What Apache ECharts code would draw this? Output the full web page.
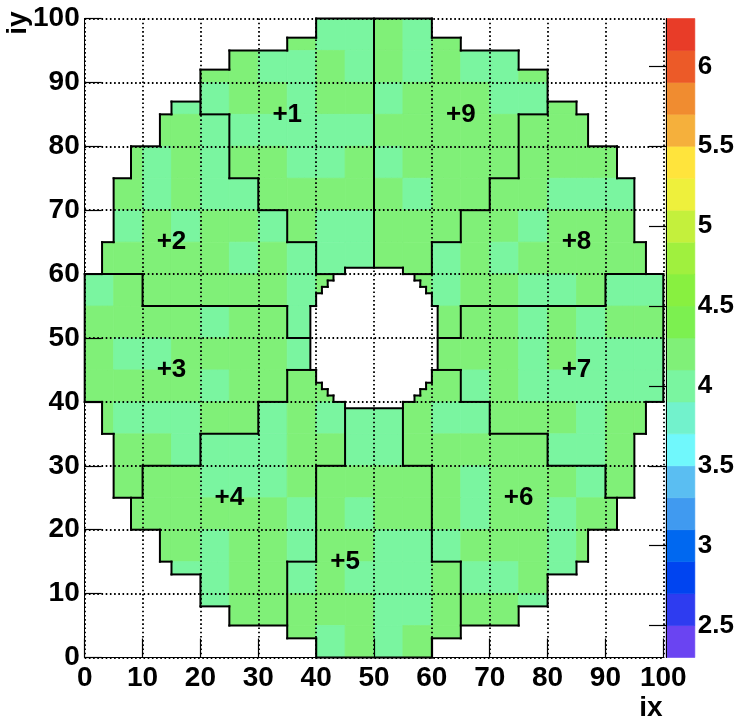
<!DOCTYPE html>
<html><head><meta charset="utf-8">
<script src="https://cdn.jsdelivr.net/npm/echarts@6/dist/echarts.min.js"></script>
<style>html,body{margin:0;padding:0;background:#fff}#c{width:737px;height:722px}</style>
</head><body><div id="c"></div>
<script>
// ---- data ----
const G = 4.2, M = 4.0, _ = null;
// mean value of each 5x5 supercrystal, rows from iy 96-100 (top) down to iy 1-5, columns ix 1-5 ... 96-100
const scValues = [
 [_,_,_,_,_,_,_,G,M,M, G,M,G,_,_,_,_,_,_,_],
 [_,_,_,_,G,G,M,M,G,M, G,M,G,M,M,G,_,_,_,_],
 [_,_,_,M,M,G,G,M,G,G, M,G,G,G,M,M,G,_,_,_],
 [_,_,G,G,M,M,M,M,M,M, G,G,G,G,G,G,G,G,_,_],
 [_,G,M,G,M,G,G,M,M,G, M,G,G,G,G,G,G,G,G,_],
 [_,G,M,G,M,M,G,G,G,G, G,M,G,G,G,G,M,M,M,_],
 [_,M,G,M,G,G,M,G,M,M, G,G,G,G,G,M,G,G,G,_],
 [G,G,G,G,G,M,G,M,M,M, G,G,M,G,M,G,G,G,G,G],
 [M,G,G,G,G,G,G,M,G,_, _,G,M,G,G,M,M,G,M,M],
 [G,G,G,G,M,G,G,M,_,_, _,_,G,G,G,M,G,M,G,G],
 [G,M,M,G,G,G,G,M,_,_, _,_,G,G,G,M,G,M,M,M],
 [G,G,G,G,M,G,G,G,G,_, _,G,G,M,G,M,M,M,M,M],
 [G,M,M,M,G,G,M,G,M,M, M,G,M,M,G,G,G,M,G,G],
 [_,G,G,M,M,M,M,G,G,M, M,G,G,G,G,G,M,M,G,_],
 [_,G,G,G,M,M,M,G,G,G, G,G,G,M,G,G,G,M,G,_],
 [_,G,G,G,G,G,G,M,G,M, G,G,G,M,G,G,M,G,G,_],
 [_,_,G,G,M,G,G,M,G,G, M,M,M,G,G,G,M,G,_,_],
 [_,_,_,M,M,G,G,M,G,M, M,M,G,M,M,G,M,_,_,_],
 [_,_,_,_,M,G,G,G,G,G, M,M,G,G,G,M,_,_,_,_],
 [_,_,_,_,_,_,_,G,M,G, M,G,G,_,_,_,_,_,_,_]
];
// sector number of each supercrystal (same layout)
const sectorRows = [
 "00000001119990000000",
 "00001111119999990000",
 "00021111119999998000",
 "00222111119999988800",
 "02222111119999988880",
 "02222211119999888880",
 "02222221119998888880",
 "22222222119988888888",
 "33222222200888888877",
 "33333332000087777777",
 "33333333000077777777",
 "33333334400667777777",
 "33333344455666777777",
 "03334444455666667770",
 "03444444555566666670",
 "04444444555566666660",
 "00444444555566666600",
 "00044445555556666000",
 "00004445555556660000",
 "00000005555550000000"
];
// endcap outline (left half, mirrored): [ixFirst, ixLast, iyMin, iyMax]
const outerRanges = [[1,3,41,60],[4,5,36,65],[6,8,26,75],[9,13,21,80],[14,15,16,85],[16,20,14,87],[21,25,9,92],[26,35,6,95],[36,40,4,97],[41,50,1,100]];
// inner hole (left half, mirrored): [ixFirst, ixLast, iyFirstMissing, iyLastMissing]
const holeRanges = [[40,40,46,55],[41,41,44,57],[42,42,43,58],[43,43,42,59],[44,45,41,60],[46,50,40,61]];
// sector labels
const sectorLabels = ['+1','+2','+3','+4','+5','+6','+7','+8','+9'];
const labelX = [35,15,15,25,45,75,85,85,65];
const labelY = [85,65,45,25,15,25,45,65,85];
// colour palette
const paletteMin = 2.3, paletteStep = 0.2;
const paletteColors = ['#6a44f2','#2e3cf0','#0044f0','#0068f0','#409af0','#5abef2','#70f8fc','#72f2cc','#7af5a0','#80f078',
  '#7cf050','#88f040','#a0f03e','#c4f03c','#eef03c','#ffe43c','#f5b03c','#f08c30','#ec5a28','#e83c28'];
const paletteTicks = [2.5,3,3.5,4,4.5,5,5.5,6];

// ---- helpers ----
function isValid(ix, iy) {
  if (ix < 1 || ix > 100 || iy < 1 || iy > 100) return false;
  const hx = ix <= 50 ? ix : 101 - ix;
  for (const r of outerRanges) if (hx >= r[0] && hx <= r[1]) { if (iy < r[2] || iy > r[3]) return false; break; }
  for (const h of holeRanges) if (hx >= h[0] && hx <= h[1]) { if (iy >= h[2] && iy <= h[3]) return false; break; }
  return true;
}
function sectorOf(ix, iy) {
  if (!isValid(ix, iy)) return 0;
  const bx = Math.floor((ix - 1) / 5), by = Math.floor((iy - 1) / 5);
  return +sectorRows[19 - by][bx];
}
const cellData = [];
scValues.forEach((row, r) => row.forEach((v, bx) => { if (v !== null) cellData.push([bx * 5, (19 - r) * 5, v]); }));

// boundary segments between different sectors (and the outside)
const segData = [];
for (let x = 0; x <= 100; x++) {
  let start = null;
  for (let iy = 1; iy <= 101; iy++) {
    const diff = iy <= 100 && sectorOf(x, iy) !== sectorOf(x + 1, iy);
    if (diff && start === null) start = iy - 1;
    if (!diff && start !== null) { segData.push([x, start, x, iy - 1]); start = null; }
  }
}
for (let y = 0; y <= 100; y++) {
  let start = null;
  for (let ix = 1; ix <= 101; ix++) {
    const diff = ix <= 100 && sectorOf(ix, y) !== sectorOf(ix, y + 1);
    if (diff && start === null) start = ix - 1;
    if (!diff && start !== null) { segData.push([start, y, ix - 1, y]); start = null; }
  }
}
const pieces = paletteColors.map((c, i) => ({ gte: paletteMin + i * paletteStep - 1e-9, lt: paletteMin + (i + 1) * paletteStep - 1e-9, color: c }));
const bandData = paletteColors.map((c, i) => [paletteMin + i * paletteStep, paletteMin + (i + 1) * paletteStep, i]);
const labelData = sectorLabels.map((t, i) => [labelX[i], labelY[i], t]);

const FONT = 'Liberation Sans';
const FS = 28;
const GRIDLINE = { color: '#000', width: 1.8, type: [1.6, 2.6] };
const chart = echarts.init(document.getElementById('c'), null, { renderer: 'canvas' });
chart.setOption({
  animation: false,
  backgroundColor: '#fff',
  grid: [
    { left: 84.7, right: 73.7, top: 18.5, bottom: 64.5 },
    { left: 666, right: 37.7, top: 18.5, bottom: 64.5 }
  ],
  xAxis: [
    { gridIndex: 0, type: 'value', min: 0, max: 100, interval: 10, z: 3,
      axisLine: { lineStyle: { color: '#000', width: 1 } },
      axisTick: { inside: true, length: 19, lineStyle: { color: '#000', width: 1.2 } },
      axisLabel: { color: '#000', fontFamily: FONT, fontWeight: 'bold', fontSize: FS, margin: 7 },
      splitLine: { show: true, lineStyle: GRIDLINE } },
    { gridIndex: 0, type: 'value', min: 0, max: 100, position: 'top', z: 6,
      axisLine: { lineStyle: { color: '#000', width: 1 } }, axisTick: { show: false }, axisLabel: { show: false }, splitLine: { show: false } },
    { gridIndex: 1, type: 'value', min: 0, max: 1, show: false }
  ],
  yAxis: [
    { gridIndex: 0, type: 'value', min: 0, max: 100, interval: 10, z: 3,
      axisLine: { lineStyle: { color: '#000', width: 1 } },
      axisTick: { inside: true, length: 17, lineStyle: { color: '#000', width: 1.2 } },
      axisLabel: { color: '#000', fontFamily: FONT, fontWeight: 'bold', fontSize: FS, margin: 5 },
      splitLine: { show: true, lineStyle: GRIDLINE } },
    { gridIndex: 0, type: 'value', min: 0, max: 100, position: 'right', z: 6,
      axisLine: { lineStyle: { color: '#000', width: 1 } }, axisTick: { show: false }, axisLabel: { show: false }, splitLine: { show: false } },
    { gridIndex: 1, type: 'value', min: 2.3, max: 6.3, position: 'right', z: 6,
      axisLine: { show: true, lineStyle: { color: '#000', width: 1 } },
      axisTick: { show: true, inside: true, length: 17, customValues: paletteTicks, lineStyle: { color: '#000', width: 1.2 } },
      axisLabel: { show: true, customValues: paletteTicks, color: '#000', fontFamily: FONT, fontWeight: 'bold', fontSize: 26, margin: 3 },
      splitLine: { show: false } }
  ],
  visualMap: { type: 'piecewise', show: false, dimension: 2, seriesIndex: 0, pieces: pieces, outOfRange: { color: '#fff' } },
  graphic: [
    { type: 'text', x: 18, y: 23, rotation: Math.PI / 2, z: 10,
      style: { text: 'iy', fill: '#000', font: 'bold ' + FS + 'px "' + FONT + '"', align: 'center', verticalAlign: 'middle' } },
    { type: 'text', x: 651, y: 708, z: 10,
      style: { text: 'ix', fill: '#000', font: 'bold ' + FS + 'px "' + FONT + '"', align: 'center', verticalAlign: 'middle' } }
  ],
  series: [
    { type: 'custom', xAxisIndex: 0, yAxisIndex: 0, z: 2, data: cellData, encode: { x: 0, y: 1 },
      renderItem: function (params, api) {
        const x0 = api.value(0), y0 = api.value(1);
        const top = [], bot = [];
        for (let c = 0; c < 5; c++) {
          const ix = x0 + c + 1; let lo = null, hi = null;
          for (let k = 1; k <= 5; k++) { const iy = y0 + k; if (isValid(ix, iy)) { if (lo === null) lo = iy; hi = iy; } }
          if (lo === null) continue;
          top.push(api.coord([ix - 1, hi]), api.coord([ix, hi]));
          bot.push(api.coord([ix - 1, lo - 1]), api.coord([ix, lo - 1]));
        }
        const pts = top.concat(bot.reverse());
        const col = api.visual('color');
        return { type: 'polygon', shape: { points: pts }, style: { fill: col, stroke: col, lineWidth: 0.8 } };
      } },
    { type: 'custom', xAxisIndex: 0, yAxisIndex: 0, z: 5, data: segData, encode: { x: [0, 2], y: [1, 3] },
      renderItem: function (params, api) {
        const a = api.coord([api.value(0), api.value(1)]), b = api.coord([api.value(2), api.value(3)]);
        return { type: 'line', shape: { x1: a[0], y1: a[1], x2: b[0], y2: b[1] }, style: { stroke: '#000', lineWidth: 2, lineCap: 'square' } };
      } },
    { type: 'custom', xAxisIndex: 0, yAxisIndex: 0, z: 7, data: labelData, encode: { x: 0, y: 1 },
      renderItem: function (params, api) {
        const p = api.coord([api.value(0), api.value(1)]);
        return { type: 'text', x: p[0], y: p[1], style: { text: labelData[params.dataIndex][2], fill: '#000', font: 'bold 26px "' + FONT + '"', align: 'center', verticalAlign: 'middle' } };
      } },
    { type: 'custom', xAxisIndex: 2, yAxisIndex: 2, z: 2, data: bandData, encode: { y: [0, 1] },
      renderItem: function (params, api) {
        const a = api.coord([0, api.value(0)]), b = api.coord([1, api.value(1)]);
        const col = paletteColors[api.value(2)];
        return { type: 'rect', shape: { x: a[0], y: b[1], width: b[0] - a[0], height: a[1] - b[1] }, style: { fill: col, stroke: col, lineWidth: 0.6 } };
      } }
  ]
});
</script></body></html>
